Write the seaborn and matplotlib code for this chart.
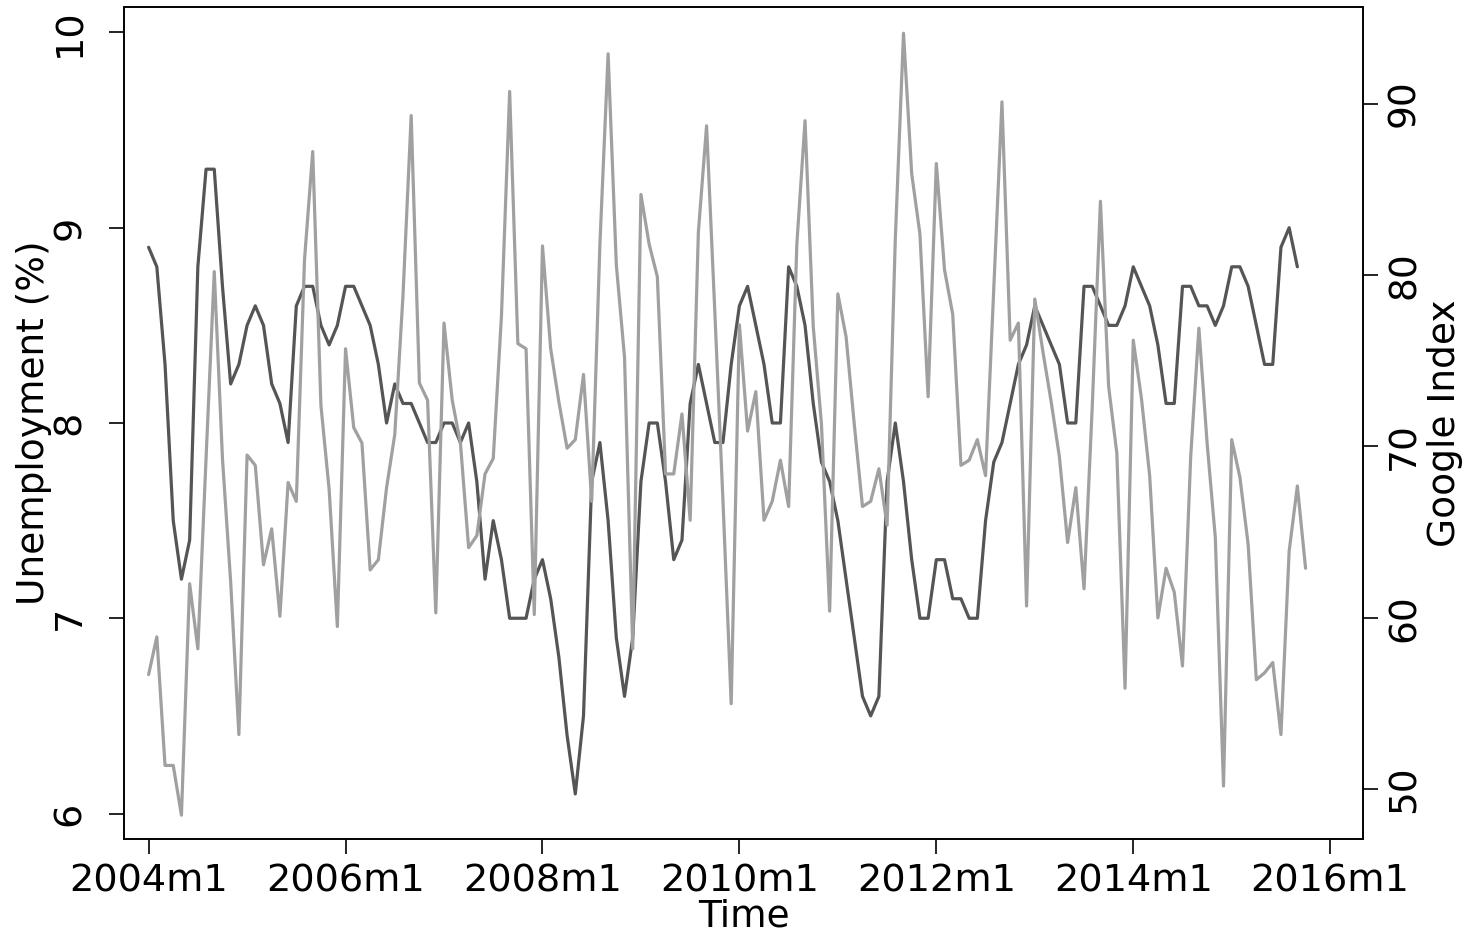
import numpy as np
import pandas as pd
import matplotlib
matplotlib.use("Agg")
import matplotlib.pyplot as plt
import seaborn as sns

# ---- data (monthly, starting 2004m1) ----
unemployment = [
    8.9, 8.8, 8.3, 7.5, 7.2, 7.4, 8.8, 9.3, 9.3, 8.7, 8.2, 8.3,
    8.5, 8.6, 8.5, 8.2, 8.1, 7.9, 8.6, 8.7, 8.7, 8.5, 8.4, 8.5,
    8.7, 8.7, 8.6, 8.5, 8.3, 8.0, 8.2, 8.1, 8.1, 8.0, 7.9, 7.9,
    8.0, 8.0, 7.9, 8.0, 7.7, 7.2, 7.5, 7.3, 7.0, 7.0, 7.0, 7.2,
    7.3, 7.1, 6.8, 6.4, 6.1, 6.5, 7.7, 7.9, 7.5, 6.9, 6.6, 6.9,
    7.7, 8.0, 8.0, 7.7, 7.3, 7.4, 8.1, 8.3, 8.1, 7.9, 7.9, 8.3,
    8.6, 8.7, 8.5, 8.3, 8.0, 8.0, 8.8, 8.7, 8.5, 8.1, 7.8, 7.7,
    7.5, 7.2, 6.9, 6.6, 6.5, 6.6, 7.7, 8.0, 7.7, 7.3, 7.0, 7.0,
    7.3, 7.3, 7.1, 7.1, 7.0, 7.0, 7.5, 7.8, 7.9, 8.1, 8.3, 8.4,
    8.6, 8.5, 8.4, 8.3, 8.0, 8.0, 8.7, 8.7, 8.6, 8.5, 8.5, 8.6,
    8.8, 8.7, 8.6, 8.4, 8.1, 8.1, 8.7, 8.7, 8.6, 8.6, 8.5, 8.6,
    8.8, 8.8, 8.7, 8.5, 8.3, 8.3, 8.9, 9.0, 8.8,
]
google_index = [
    56.7, 58.9, 51.4, 51.4, 48.5, 62.0, 58.2, 69.3, 80.2, 69.3, 62.1, 53.2,
    69.5, 68.9, 63.1, 65.2, 60.1, 67.9, 66.8, 80.9, 87.2, 72.4, 67.5, 59.5,
    75.7, 71.1, 70.2, 62.8, 63.4, 67.6, 70.7, 78.8, 89.3, 73.7, 72.7, 60.3,
    77.2, 72.7, 70.2, 64.1, 64.8, 68.4, 69.3, 77.6, 90.7, 76.0, 75.7, 60.2,
    81.7, 75.7, 72.6, 69.9, 70.4, 74.2, 66.8, 81.8, 92.9, 80.6, 75.2, 58.2,
    84.7, 81.8, 79.9, 68.4, 68.4, 71.9, 65.7, 82.5, 88.7, 77.9, 66.8, 55.0,
    77.1, 70.9, 73.2, 65.7, 66.8, 69.2, 66.5, 81.8, 89.0, 77.0, 71.3, 60.4,
    78.9, 76.4, 71.3, 66.5, 66.8, 68.7, 65.4, 82.1, 94.1, 85.9, 82.4, 72.9,
    86.5, 80.3, 77.7, 68.9, 69.2, 70.4, 68.3, 79.2, 90.1, 76.2, 77.2, 60.7,
    78.6, 75.5, 72.6, 69.4, 64.4, 67.6, 61.7, 72.3, 84.3, 73.5, 69.6, 55.9,
    76.2, 72.8, 68.3, 60.0, 62.9, 61.5, 57.2, 69.4, 76.9, 70.2, 64.7, 50.2,
    70.4, 68.2, 64.3, 56.4, 56.8, 57.4, 53.2, 63.9, 67.7, 62.9,
]
tick_months = [0, 24, 48, 72, 96, 120, 144]
tick_labels = ["2004m1", "2006m1", "2008m1", "2010m1", "2012m1", "2014m1", "2016m1"]
left_ticks = [6, 7, 8, 9, 10]
right_ticks = [50, 60, 70, 80, 90]

df_u = pd.DataFrame({"month": np.arange(len(unemployment)), "value": unemployment})
df_g = pd.DataFrame({"month": np.arange(len(google_index)), "value": google_index})

sns.set_theme(style="white")
plt.rcParams["font.family"] = ["DejaVu Sans"]
plt.rcParams["text.color"] = "black"
plt.rcParams["axes.labelcolor"] = "black"
plt.rcParams["xtick.color"] = "black"
plt.rcParams["ytick.color"] = "black"
plt.rcParams["xtick.labelcolor"] = "black"
plt.rcParams["ytick.labelcolor"] = "black"

fig = plt.figure(figsize=(14.73, 9.38), dpi=100)
fig.subplots_adjust(left=124 / 1473, right=1363 / 1473, bottom=(938 - 838.5) / 938, top=(938 - 7.5) / 938)
ax = fig.add_subplot(111)
ax2 = ax.twinx()

sns.lineplot(data=df_u, x="month", y="value", ax=ax, color="#555555", linewidth=2.3)
sns.lineplot(data=df_g, x="month", y="value", ax=ax2, color="#a0a0a0", linewidth=2.3)

ax.set_xlim(-3, 148)
ax.set_ylim(5.872, 10.128)
ax2.set_ylim(47.14, 95.6)

ax.set_xticks(tick_months)
ax.set_xticklabels(tick_labels)
ax.set_yticks(left_ticks)
ax.set_yticklabels([str(t) for t in left_ticks])
ax2.set_yticks(right_ticks)
ax2.set_yticklabels([str(t) for t in right_ticks])

for a in (ax, ax2):
    for s in a.spines.values():
        s.set_visible(True)
        s.set_color("black")
        s.set_linewidth(1.2)

ax.tick_params(axis="x", direction="out", length=11, width=1.2, color="black",
               labelcolor="black", labelsize=27.5, pad=7, bottom=True)
ax.tick_params(axis="y", direction="out", length=11, width=1.2, color="black",
               labelcolor="black", labelsize=27.5, pad=15, left=True, labelrotation=90)
ax2.tick_params(axis="y", direction="out", length=11, width=1.2, color="black",
                labelcolor="black", labelsize=27, pad=6, right=True, labelrotation=90)
for lab in ax.get_yticklabels():
    lab.set_va("center")
for lab in ax2.get_yticklabels():
    lab.set_va("center")

ax.set_xlabel("Time", fontsize=27, va="center", color="black")
ax.xaxis.set_label_coords(0.5, -0.094)
ax.set_ylabel("Unemployment (%)", fontsize=27, va="center", color="black")
ax.yaxis.set_label_coords((34 - 124) / 1239, 0.5)
ax2.set_ylabel("Google Index", fontsize=27, va="center", rotation=90, color="black")
ax2.yaxis.set_label_coords((1445 - 124) / 1239, 0.5)

ax.grid(False)
ax2.grid(False)

fig.savefig("out.png", dpi=100)
